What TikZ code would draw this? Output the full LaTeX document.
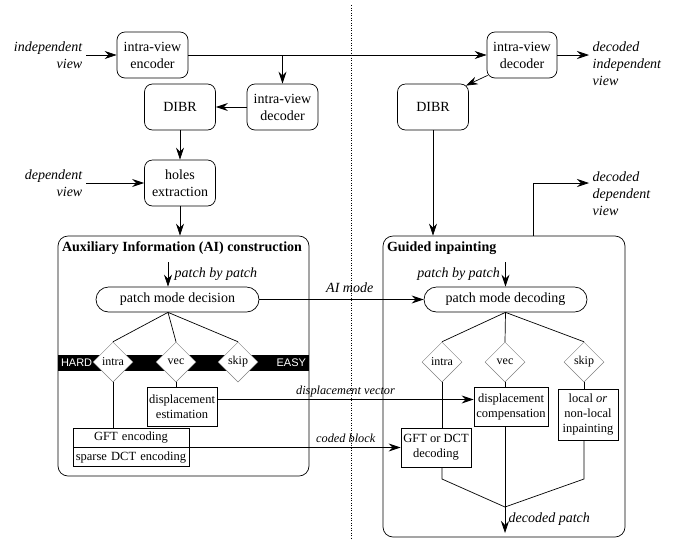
\documentclass[tikz,border=0pt]{standalone}
\usepackage{fontspec}
\setmainfont{Liberation Serif}
\setsansfont{Liberation Sans}
\usetikzlibrary{arrows.meta,shapes.geometric,shapes.multipart}
\newcommand\fbig{\fontsize{14}{17}\selectfont}
\newcommand\fmid{\fontsize{12.5}{15}\selectfont}
\tikzset{
  arr/.style={-{Stealth[length=12pt,width=8pt,inset=4pt]}},
  rbox/.style={draw, rounded corners=8pt, minimum width=71pt, minimum height=46pt, align=center, inner sep=1pt, font=\fbig},
  pill/.style={draw, rounded corners=12.5pt, minimum width=163pt, minimum height=25pt, inner sep=1pt, font=\fbig},
  sbox/.style={draw, align=center, inner sep=1pt, font=\fmid},
  dmd/.style={diamond, draw=gray, line width=0.5pt, fill=white, minimum width=40pt, minimum height=40pt, inner sep=0pt, font=\fontsize{12}{14}\selectfont},
  cont/.style={draw, rounded corners=10pt},
  lbl/.style={font=\fbig\itshape},
  slbl/.style={font=\fontsize{12.3}{14}\selectfont\itshape},
  ttl/.style={font=\fbig\bfseries, anchor=north west, inner sep=2pt},
  band/.style={fill=black, minimum width=251pt, minimum height=16pt, inner sep=0pt},
  hard/.style={text=white, font=\sffamily\fontsize{11}{12}\selectfont, inner sep=3pt}
}
\begin{document}
\begin{tikzpicture}[x=1pt, y=-1pt, line width=0.7pt]
    \useasboundingbox (0,0) rectangle (677,539);
    \coordinate (dtop) at (351,5);
    \coordinate (dbot) at (351,539);
    \draw[dotted, line width=0.5pt] (dtop) -- (dbot);

    \node[rbox] (enc) at (152.5,55) {intra-view\\encoder};
    \node[rbox] (decL) at (282.5,107) {intra-view\\decoder};
    \node[rbox] (dibrL) at (180,107) {DIBR};
    \node[rbox] (holes) at (180,183) {holes\\extraction};
    \node[rbox, minimum width=70pt] (decR) at (522,55) {intra-view\\decoder};
    \node[rbox] (dibrR) at (433,107) {DIBR};

    \node[lbl, anchor=east, align=right] (indep) at (86,55) {independent\\view};
    \node[lbl, anchor=east, align=right] (dep) at (86,183) {dependent\\view};
    \node[lbl, anchor=west, align=left] (outI) at (589,64) {decoded\\independent\\view};
    \node[lbl, anchor=west, align=left] (outD) at (589,194) {decoded\\dependent\\view};

    \node[cont, minimum width=251pt, minimum height=240pt] (ai) at (183.5,356) {};
    \node[cont, minimum width=242pt, minimum height=301pt] (guide) at (504,386.5) {};
    \node[ttl] at ([shift={(2,4)}]ai.north west) {Auxiliary Information (AI) construction};
    \node[ttl] at ([shift={(2,4)}]guide.north west) {Guided inpainting};

    \draw[arr] (indep.east) -- (enc.west);
    \draw[arr] (enc.east) -- (decR.west);
    \draw[arr] (enc.east -| decL) -- (decL.north);
    \draw[arr] (decL.west) -- (dibrL.east);
    \draw[arr] (dibrL.south) -- (holes.north);
    \draw[arr] (dep.east) -- (holes.west);
    \draw[arr] (holes.south) -- (holes.south |- ai.north);
    \draw[arr] (decR.east) -- (decR.east -| outI.west);
    \draw[arr] ([shift={(1,-3)}]decR.south west) -- ([shift={(-3,2)}]dibrR.north east);
    \draw[arr] (dibrR.south) -- (dibrR.south |- guide.north);
    \draw[arr] ([xshift=29pt]guide.north) |- ([yshift=11pt]outD.west);

    \node[band] (bar) at (183.5,363) {};
    \node[hard, anchor=west] at (bar.west) {HARD};
    \node[hard, anchor=east] at (bar.east) {EASY};

    \node[pill] (pmd) at (177.5,299.5) {patch mode decision};
    \node[pill] (pmdec) at (505.5,299.5) {patch mode decoding};
    \coordinate (apL) at ([xshift=-9.5pt]pmd.south);
    \coordinate (apR) at (pmdec.south);
    \coordinate (pbpL) at (168,262);
    \coordinate (pbpR) at (505.5,262);
    \draw[arr] (pbpL) -- node[lbl, right=3pt] {patch by patch} (pbpL |- pmd.north);
    \draw[arr] (pbpR) -- node[lbl, left=2pt] {patch by patch} (pbpR |- pmdec.north);
    \draw[arr] (pmd.east) -- node[lbl, above=3pt, pos=.55] {AI mode} (pmdec.west);

    \node[dmd] (dI) at (113,362) {intra};
    \node[dmd] (dV) at (176,362) {vec};
    \node[dmd] (dS) at (238,362) {skip};
    \node[dmd] (rI) at (442,362) {intra};
    \node[dmd] (rV) at (505,362) {vec};
    \node[dmd] (rS) at (584,362) {skip};
    \draw (apL) -- (dI.north) (apL) -- (dV.north) (apL) -- (dS.north);
    \draw (apR) -- (rI.north) (apR) -- (rV.north) (apR) -- (rS.north);

    \node[sbox, minimum width=70pt, minimum height=39pt] (est) at (182,406.5) {displacement\\estimation};
    \node[draw, font=\fmid, rectangle split, rectangle split parts=2, text width=113pt, align=center, inner xsep=1.5pt, inner ysep=3.5pt] (gft) at (131,447.5) {GFT encoding \nodepart{two} sparse DCT encoding};
    \node[sbox, minimum width=70pt, minimum height=39pt] (dctdec) at (436,447.5) {GFT or DCT\\decoding};
    \node[sbox, minimum width=74pt, minimum height=39pt] (comp) at (511,406.5) {displacement\\compensation};
    \node[sbox, minimum width=60pt, minimum height=51pt] (loc) at (588,414.5) {local \textit{or}\\non-local\\inpainting};

    \draw (dV.south) -- (dV.south |- est.north);
    \draw (dI.south) -- (dI.south |- gft.north);
    \draw[arr] ([yshift=7pt]est.east) -- node[slbl, above=-1pt] {displacement vector} ([yshift=7pt]comp.west);
    \draw[arr] (gft.east) -- node[slbl, above=1pt, pos=.74] {coded block} (dctdec.west);

    \coordinate (kink) at (0,479);
    \coordinate (mrg) at (505,507);
    \coordinate (pend) at (505,533);
    \draw (rI.south) -- (rI.south |- dctdec.north);
    \draw (rV.south) -- (rV.south |- comp.north);
    \draw (rS.south) -- (rS.south |- loc.north);
    \draw (rI.south |- dctdec.south) -- (rI.south |- kink) -- (mrg);
    \draw (rS.south |- loc.south) -- (rS.south |- kink) -- (mrg);
    \draw[arr] (rV.south |- comp.south) -- node[lbl, right, pos=.87] {decoded patch} (pend);
\end{tikzpicture}
\end{document}
